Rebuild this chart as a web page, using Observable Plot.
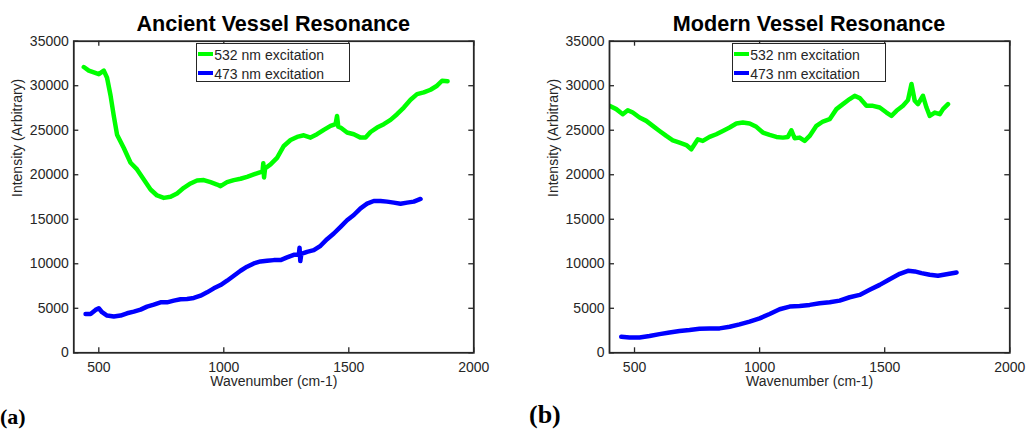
<!DOCTYPE html>
<html><head><meta charset="utf-8">
<script src="https://cdn.jsdelivr.net/npm/d3@7"></script>
<script src="https://cdn.jsdelivr.net/npm/@observablehq/plot@0.6"></script>
<style>
body{margin:0;background:#fff;}
#wrap{position:relative;width:1026px;height:431px;overflow:hidden;font-family:"Liberation Sans",Arial,sans-serif;background:#fff;}
.panel{position:absolute;top:0;}
.title{position:absolute;top:11.5px;width:400px;text-align:center;font-weight:bold;font-size:21.6px;line-height:24px;color:#000;white-space:nowrap;}
.legend{position:absolute;top:43px;width:152px;height:37px;background:#fff;border:1px solid #262626;font-size:14px;color:#262626;}
.row{position:absolute;left:0;height:19px;line-height:19px;white-space:nowrap;}
.sw{position:absolute;left:1px;width:15px;height:3.5px;}
.lt{position:absolute;left:17px;top:0;}
.tag{position:absolute;font-family:"Liberation Serif","Times New Roman",serif;font-weight:bold;line-height:1;color:#000;}
</style>
</head><body>
<div id="wrap"></div>
<script>
// ---- data ----
const panelTitles = ["Ancient Vessel Resonance", "Modern Vessel Resonance"];
const panelTags = ["(a)", "(b)"];
const seriesNames = ["532 nm excitation", "473 nm excitation"];
const seriesColors = ["#00ff00", "#0000ff"];
const xTicks = [500, 1000, 1500, 2000];
const yTicks = [0, 5000, 10000, 15000, 20000, 25000, 30000, 35000];
const xLabel = "Wavenumber (cm-1)";
const yLabel = "Intensity (Arbitrary)";

const ancient532X = [440,460,480,500,520,533,547,560,573,600,627,653,680,707,733,760,787,813,840,867,893,920,947,973,987,1013,1040,1067,1093,1120,1147,1155,1158,1161,1165,1187,1213,1240,1267,1293,1320,1347,1373,1400,1427,1447,1453,1458,1467,1493,1520,1547,1567,1587,1613,1640,1667,1693,1720,1747,1773,1800,1827,1853,1873,1895];
const ancient532Y = [32100,31700,31500,31300,31700,30900,28900,26600,24500,23000,21350,20600,19470,18340,17670,17400,17520,17900,18530,19020,19360,19400,19170,18900,18720,19170,19400,19550,19770,20040,20300,20400,21300,19700,20700,21160,21900,23230,23900,24250,24430,24170,24550,25040,25490,25680,26600,25400,25300,24740,24550,24170,24170,24800,25300,25680,26160,26800,27550,28420,29060,29250,29550,30000,30560,30500];
const ancient473X = [447,467,487,500,513,533,560,587,613,640,667,693,720,747,773,800,827,853,880,907,933,960,987,1013,1040,1067,1093,1120,1147,1173,1200,1227,1253,1280,1300,1303,1306,1310,1333,1360,1387,1413,1440,1467,1493,1520,1547,1573,1600,1627,1653,1680,1707,1733,1760,1787];
const ancient473Y = [4370,4370,4820,5000,4560,4180,4070,4180,4440,4630,4850,5190,5410,5670,5670,5860,6010,6050,6160,6420,6790,7240,7610,8100,8660,9220,9670,10040,10260,10340,10410,10410,10710,11000,11000,11800,10300,11100,11340,11530,12020,12760,13400,14140,14890,15480,16230,16750,17050,17050,16980,16870,16750,16870,16980,17280];
const modern532X = [400,427,453,473,493,520,547,573,600,627,653,680,707,727,753,773,800,827,853,880,907,933,960,987,1013,1040,1067,1093,1113,1127,1140,1160,1180,1200,1227,1253,1280,1307,1333,1360,1380,1400,1427,1453,1480,1507,1527,1547,1573,1593,1607,1620,1633,1653,1667,1680,1700,1720,1733,1753];
const modern532Y = [27740,27370,26800,27250,26990,26430,26050,25490,24920,24360,23870,23610,23340,22860,23980,23800,24250,24550,24920,25300,25750,25860,25750,25380,24740,24470,24250,24170,24250,25000,24100,24170,23800,24360,25490,25980,26240,27370,27930,28500,28870,28610,27740,27740,27550,26990,26620,27180,27740,28380,30190,28310,27930,28870,27550,26620,26990,26800,27370,27930];
const modern473X = [447,480,520,560,600,640,680,720,760,800,840,880,920,960,1000,1040,1080,1120,1160,1200,1240,1280,1320,1360,1400,1440,1480,1520,1560,1593,1620,1647,1680,1713,1747,1787];
const modern473Y = [1800,1730,1730,1880,2100,2290,2440,2560,2710,2740,2740,2930,3190,3500,3870,4360,4890,5190,5260,5380,5560,5680,5860,6240,6500,7070,7630,8270,8870,9210,9140,8950,8760,8650,8830,9020];

const toRows = (xs, ys) => xs.map((x, i) => ({x, y: ys[i]}));
const panels = [
  {series: [toRows(ancient532X, ancient532Y), toRows(ancient473X, ancient473Y)]},
  {series: [toRows(modern532X, modern532Y), toRows(modern473X, modern473Y)]}
];

// ---- layout ----
const W = 513, H = 400, mt = 40.7, mb = 47.7;
const layouts = [
  {left: 0, ml: 73.3, mr: 39.7, tag: {left: 0, top: 406, size: 22, weight: "bold"}},
  {left: 513, ml: 96, mr: 16.7, tag: {left: 529, top: 402, size: 26, weight: "bold"}}
];
const ink = "#262626";
const wrap = document.getElementById("wrap");

panels.forEach((p, k) => {
  const L = layouts[k];
  const fw = W - L.ml - L.mr, fh = H - mt - mb;
  const chart = Plot.plot({
    width: W, height: H,
    marginLeft: L.ml, marginRight: L.mr, marginTop: mt, marginBottom: mb,
    style: {fontFamily: '"Liberation Sans", Arial, sans-serif', fontSize: "14px", color: ink, background: "transparent", overflow: "visible"},
    x: {domain: [400, 2000]},
    y: {domain: [0, 35000]},
    marks: [
      ...p.series.map((s, i) => Plot.line(s, {x: "x", y: "y", stroke: seriesColors[i], strokeWidth: 4.5, strokeLinejoin: "round", strokeLinecap: "round", clip: true})),
      Plot.tickY(yTicks, {y: d => d, insetRight: fw - 5, stroke: ink, strokeWidth: 1.3}),
      Plot.tickY(yTicks, {y: d => d, insetLeft: fw - 5, stroke: ink, strokeWidth: 1.3}),
      Plot.tickX(xTicks, {x: d => d, insetTop: fh - 5, stroke: ink, strokeWidth: 1.3}),
      Plot.tickX(xTicks, {x: d => d, insetBottom: fh - 5, stroke: ink, strokeWidth: 1.3}),
      Plot.frame({stroke: ink, strokeWidth: 1.8}),
      Plot.axisX({ticks: xTicks, tickSize: 0, tickPadding: 9, tickFormat: "d", label: null, fill: ink, fontSize: 14}),
      Plot.axisY({ticks: yTicks, tickSize: 0, tickPadding: 5, tickFormat: "d", label: null, fill: ink, fontSize: 14}),
      Plot.text([xLabel], {text: d => d, frameAnchor: "bottom", dy: 33, fill: ink, fontSize: 14}),
      Plot.text([yLabel], {text: d => d, frameAnchor: "left", rotate: -90, dx: -56, fill: ink, fontSize: 14})
    ]
  });
  const holder = document.createElement("div");
  holder.className = "panel";
  holder.style.left = L.left + "px";
  holder.appendChild(chart);
  wrap.appendChild(holder);

  const frameLeft = L.left + L.ml;
  const t = document.createElement("div");
  t.className = "title";
  t.style.left = frameLeft + "px";
  t.textContent = panelTitles[k];
  wrap.appendChild(t);

  const lg = document.createElement("div");
  lg.className = "legend";
  lg.style.left = (frameLeft + fw / 2 - 77) + "px";
  seriesNames.forEach((name, i) => {
    const r = document.createElement("div");
    r.className = "row";
    r.style.top = (1.5 + i * 19) + "px";
    const sw = document.createElement("div");
    sw.className = "sw";
    sw.style.background = seriesColors[i];
    sw.style.top = "6.5px";
    const tx = document.createElement("div");
    tx.className = "lt";
    tx.textContent = name;
    r.appendChild(sw); r.appendChild(tx);
    lg.appendChild(r);
  });
  wrap.appendChild(lg);

  const tg = document.createElement("div");
  tg.className = "tag";
  tg.style.left = L.tag.left + "px";
  tg.style.top = L.tag.top + "px";
  tg.style.fontSize = L.tag.size + "px";
  tg.style.fontWeight = L.tag.weight;
  tg.textContent = panelTags[k];
  wrap.appendChild(tg);
});
</script>
</body></html>
